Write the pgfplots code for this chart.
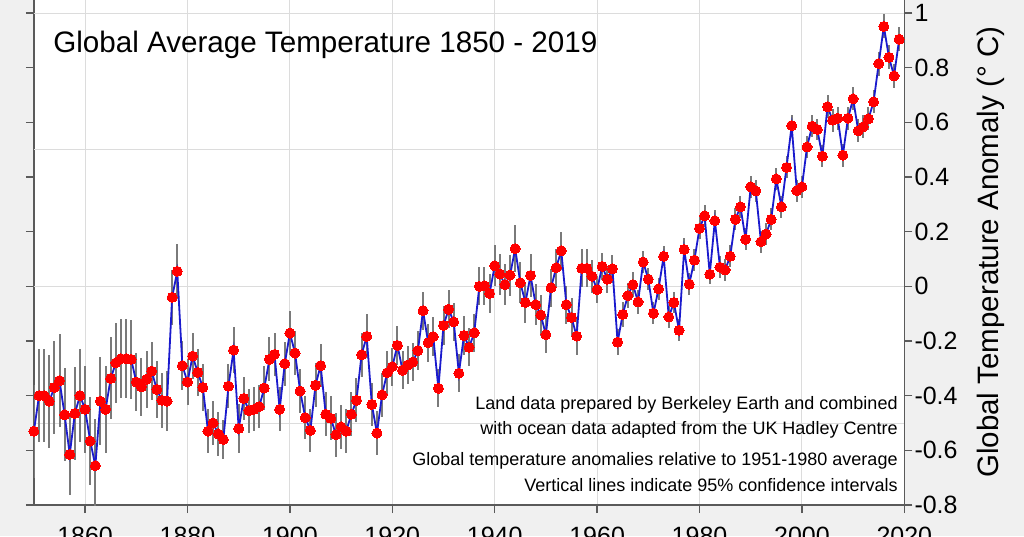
\documentclass[border=0pt]{standalone}
\usepackage{pgfplots}
\pgfplotsset{compat=1.18}
\usepackage{pgfplotstable}
\usepackage{fontspec}
\setmainfont{Liberation Sans}
\definecolor{bgc}{HTML}{F0F0F0}
\definecolor{gridc}{HTML}{DCDCDC}
\definecolor{axc}{HTML}{5A5A5A}
\definecolor{barc}{HTML}{7A7A7A}
\definecolor{linec}{HTML}{1A1ACD}
\definecolor{dotc}{HTML}{FF0000}

\pgfplotstableread{
year val err
1850 -0.530 0.17
1851 -0.400 0.17
1852 -0.400 0.17
1853 -0.420 0.17
1854 -0.370 0.17
1855 -0.345 0.17
1856 -0.470 0.17
1857 -0.615 0.15
1858 -0.465 0.17
1859 -0.400 0.17
1860 -0.450 0.16
1861 -0.566 0.16
1862 -0.656 0.17
1863 -0.420 0.16
1864 -0.450 0.16
1865 -0.337 0.15
1866 -0.280 0.145
1867 -0.265 0.145
1868 -0.265 0.145
1869 -0.267 0.145
1870 -0.350 0.105
1871 -0.368 0.105
1872 -0.340 0.105
1873 -0.310 0.105
1874 -0.377 0.105
1875 -0.417 0.10
1876 -0.420 0.11
1877 -0.040 0.10
1878 0.055 0.10
1879 -0.290 0.09
1880 -0.350 0.085
1881 -0.255 0.085
1882 -0.315 0.085
1883 -0.370 0.085
1884 -0.530 0.08
1885 -0.500 0.08
1886 -0.540 0.08
1887 -0.560 0.07
1888 -0.365 0.08
1889 -0.233 0.085
1890 -0.520 0.088
1891 -0.410 0.08
1892 -0.455 0.08
1893 -0.450 0.08
1894 -0.440 0.08
1895 -0.372 0.08
1896 -0.267 0.08
1897 -0.249 0.08
1898 -0.450 0.08
1899 -0.283 0.08
1900 -0.171 0.08
1901 -0.244 0.08
1902 -0.383 0.08
1903 -0.480 0.08
1904 -0.527 0.08
1905 -0.362 0.08
1906 -0.290 0.08
1907 -0.468 0.08
1908 -0.483 0.08
1909 -0.543 0.08
1910 -0.514 0.08
1911 -0.530 0.08
1912 -0.468 0.08
1913 -0.417 0.08
1914 -0.250 0.08
1915 -0.183 0.08
1916 -0.432 0.08
1917 -0.537 0.08
1918 -0.397 0.08
1919 -0.316 0.08
1920 -0.294 0.07
1921 -0.216 0.07
1922 -0.307 0.07
1923 -0.288 0.07
1924 -0.277 0.07
1925 -0.235 0.07
1926 -0.089 0.07
1927 -0.206 0.07
1928 -0.184 0.07
1929 -0.373 0.07
1930 -0.143 0.07
1931 -0.084 0.07
1932 -0.130 0.07
1933 -0.318 0.07
1934 -0.180 0.07
1935 -0.223 0.07
1936 -0.170 0.07
1937 0.000 0.07
1938 0.002 0.07
1939 -0.026 0.07
1940 0.075 0.075
1941 0.045 0.075
1942 0.006 0.075
1943 0.041 0.075
1944 0.138 0.086
1945 0.013 0.075
1946 -0.059 0.075
1947 0.040 0.08
1948 -0.067 0.075
1949 -0.105 0.075
1950 -0.177 0.068
1951 -0.005 0.07
1952 0.068 0.07
1953 0.130 0.07
1954 -0.067 0.07
1955 -0.114 0.07
1956 -0.182 0.07
1957 0.066 0.07
1958 0.066 0.07
1959 0.037 0.06
1960 -0.012 0.05
1961 0.073 0.05
1962 0.026 0.05
1963 0.064 0.05
1964 -0.204 0.047
1965 -0.103 0.045
1966 -0.034 0.045
1967 0.006 0.045
1968 -0.057 0.045
1969 0.089 0.04
1970 0.026 0.04
1971 -0.099 0.04
1972 -0.009 0.04
1973 0.110 0.037
1974 -0.112 0.04
1975 -0.059 0.04
1976 -0.161 0.04
1977 0.135 0.04
1978 0.008 0.04
1979 0.096 0.04
1980 0.212 0.04
1981 0.258 0.04
1982 0.044 0.037
1983 0.240 0.04
1984 0.070 0.04
1985 0.060 0.04
1986 0.110 0.04
1987 0.245 0.04
1988 0.291 0.04
1989 0.172 0.04
1990 0.364 0.04
1991 0.349 0.04
1992 0.163 0.04
1993 0.191 0.04
1994 0.245 0.04
1995 0.393 0.04
1996 0.291 0.04
1997 0.435 0.04
1998 0.588 0.04
1999 0.350 0.04
2000 0.364 0.04
2001 0.510 0.04
2002 0.586 0.04
2003 0.574 0.04
2004 0.476 0.04
2005 0.657 0.042
2006 0.608 0.042
2007 0.615 0.042
2008 0.480 0.042
2009 0.615 0.042
2010 0.686 0.042
2011 0.569 0.042
2012 0.584 0.042
2013 0.613 0.042
2014 0.675 0.042
2015 0.815 0.044
2016 0.951 0.044
2017 0.838 0.044
2018 0.770 0.044
2019 0.904 0.044
}\temps

\begin{document}
\begin{tikzpicture}
\fill[bgc] (-33.9pt,-31pt) rectangle (990.1pt,505pt);
\begin{axis}[
  name=ax,
  scale only axis,
  width=870.4pt, height=505.67pt,
  xmin=1850, xmax=2020,
  ymin=-0.8, ymax=1.05,
  axis background/.style={fill=white},
  axis line style={draw=axc, line width=1.3pt},
  xtick={1860,1880,...,2020},
  ytick={-0.8,-0.6,...,1.0},
  xtick pos=bottom,
  ytick pos=both,
  yticklabel pos=right,
  tick align=outside,
  major tick length=8pt,
  tick style={draw=axc, line width=1.3pt},
  xmajorgrids=true,
  grid style={draw=gridc, line width=0.9pt},
  extra y ticks={-0.5,0,0.5,1},
  extra y tick labels={},
  extra y tick style={ymajorgrids=true, major tick length=0pt, tick style={draw=none}},
  /pgf/number format/assume math mode=true,
  /pgf/number format/1000 sep={},
  ticklabel style={font=\fontsize{25}{30}\selectfont, text=black},
  yticklabel style={anchor=west, inner sep=0pt, xshift=2pt, /pgf/number format/fixed},
  xticklabel style={anchor=north, inner sep=0pt, yshift=-14pt},
  clip=true,
]
\addplot[draw=none, mark=none, forget plot,
  error bars/.cd, y dir=both, y explicit,
  error bar style={draw=barc, line width=2pt}, error mark=none]
  table[x=year, y=val, y error=err] {\temps};
\addplot[draw=linec, line width=1.8pt, mark=*, mark size=5pt,
  mark options={fill=dotc, draw=dotc, line width=0pt}]
  table[x=year, y=val] {\temps};
\node[anchor=base west, inner sep=0pt, font=\fontsize{29.6}{34}\selectfont] at (axis cs:1853.75,0.857) {Global Average Temperature 1850 - 2019};
\node[anchor=base east, inner sep=0pt, font=\fontsize{18}{22}\selectfont] at (axis cs:2018.73,-0.451) {Land data prepared by Berkeley Earth and combined};
\node[anchor=base east, inner sep=0pt, font=\fontsize{18}{22}\selectfont] at (axis cs:2018.73,-0.543) {with ocean data adapted from the UK Hadley Centre};
\node[anchor=base east, inner sep=0pt, font=\fontsize{18}{22}\selectfont] at (axis cs:2018.73,-0.657) {Global temperature anomalies relative to 1951-1980 average};
\node[anchor=base east, inner sep=0pt, font=\fontsize{18}{22}\selectfont] at (axis cs:2018.73,-0.749) {Vertical lines indicate 95\% confidence intervals};
\end{axis}
\node[rotate=90, anchor=base, font=\fontsize{29.5}{34}\selectfont] at ([xshift=93.7pt]ax.east) {Global Temperature Anomaly (° C)};
\pgfresetboundingbox
\path[use as bounding box] (-33.9pt,-31pt) rectangle (990.1pt,505pt);
\end{tikzpicture}
\end{document}
